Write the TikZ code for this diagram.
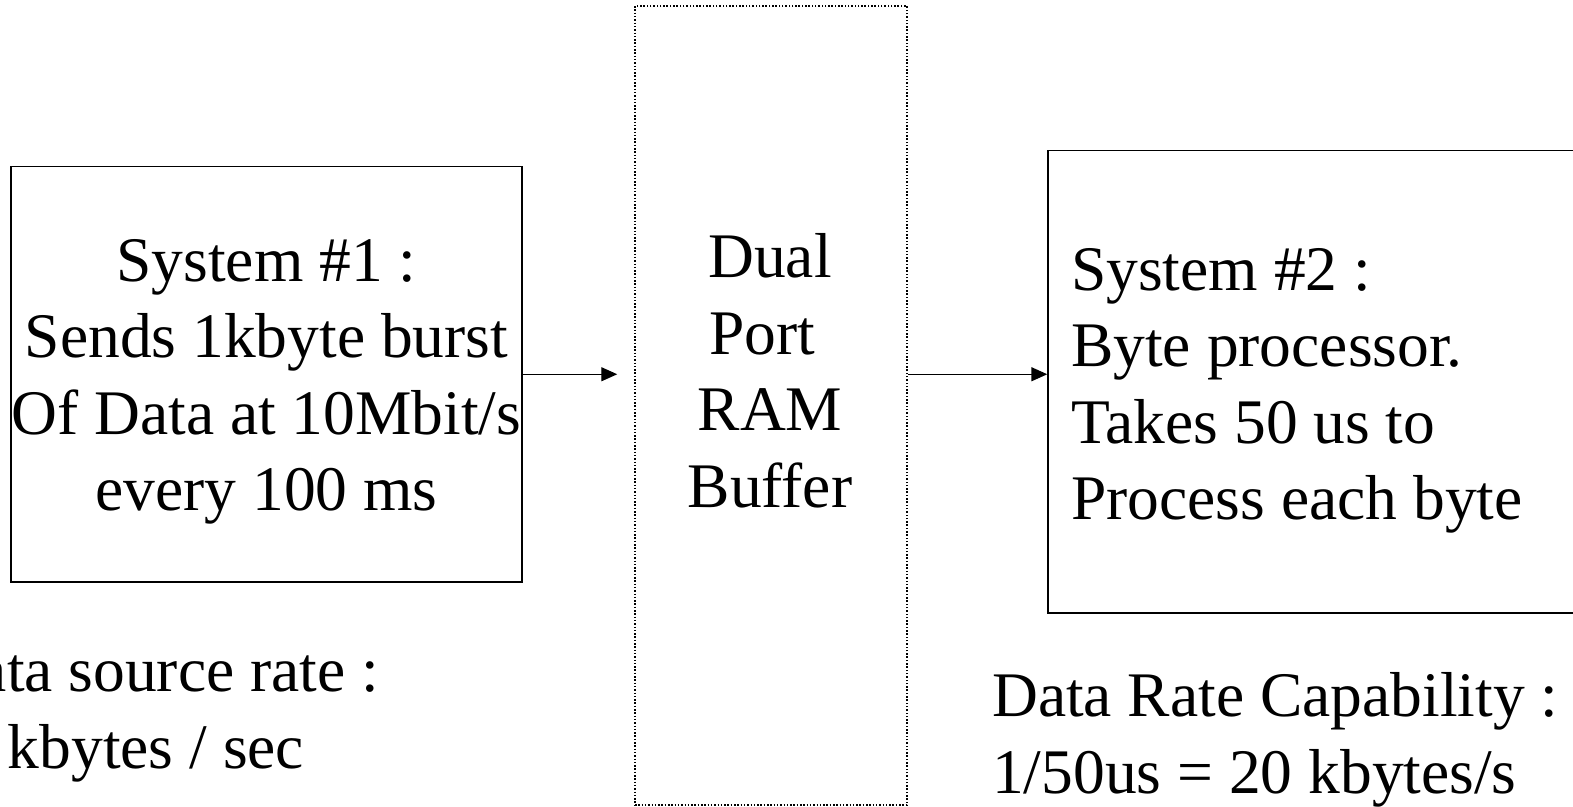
\documentclass[tikz,border=0pt]{standalone}
\usepackage{fontspec}
\setmainfont{Liberation Serif}
\usetikzlibrary{arrows.meta}
\begin{document}
\begin{tikzpicture}[x=1pt,y=-1pt,
  box/.style={draw, line width=1.4pt, inner sep=0pt},
  bufbox/.style={draw, line width=1.5pt, dash pattern=on 1.5pt off 1.8pt, inner sep=0pt},
  txt/.style={inner sep=0pt, font=\fontsize{63.5}{76.5}\selectfont},
  arr/.style={line width=1.4pt, -{Triangle[length=16pt,width=14pt]}}]
\useasboundingbox (0,0) rectangle (1573,806);
\clip (0,0) rectangle (1573,806);

% the three blocks
\node[box, minimum width=511pt, minimum height=415.5pt] (sys1) at (266.5,374.25) {};
\node[bufbox, minimum width=272pt, minimum height=799pt] (ram) at (771,405.5) {};
\node[box, minimum width=552pt, minimum height=462.5pt] (sys2) at (1324,381.75) {};

% block texts
\node[txt, anchor=north, align=center] (sys1txt) at (266.5,239)
  {System \#1 :\\Sends 1kbyte burst\\Of Data at 10Mbit/s\\every 100 ms};
\node[txt, anchor=north, align=center] (ramtxt) at (770,233.5)
  {Dual\\Port\kern0.25em\\RAM\\Buffer};
\node[txt, anchor=north west, align=left] (sys2txt) at (1071,248)
  {System \#2 :\\Byte processor.\\Takes 50 us to\\Process each byte};

% rate notes under the systems
\node[txt, anchor=north, align=center] (srcrate) at (156,650)
  {Data source rate :\\kbytes / sec};
\node[txt, anchor=north west, align=left] (caprate) at (992,672.5)
  {Data Rate Capability :\\1/50us = 20 kbytes/s};

% data flow
\draw[arr, shorten >=17pt] (sys1.east) -- (sys1.east -| ram.west);
\draw[arr] (sys1.east -| ram.east) -- (sys1.east -| sys2.west);
\end{tikzpicture}
\end{document}
